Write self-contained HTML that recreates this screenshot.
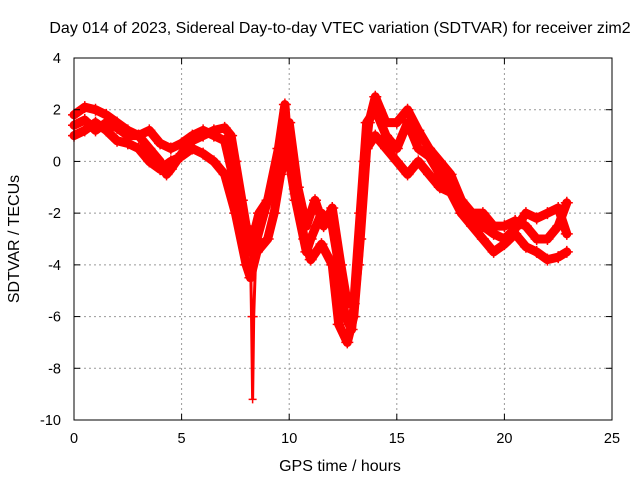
<!DOCTYPE html>
<html><head><meta charset="utf-8"><style>
body{margin:0;background:#fff}
svg{display:block;font-family:"Liberation Sans",sans-serif}
</style></head><body>
<svg id="chart" width="640" height="480">
<g id="grid"></g>
<g id="series"></g>
<rect x="74" y="58" width="538" height="362" fill="none" stroke="#000" stroke-width="1"/>
<g id="ticks"></g>
<text x="340" y="33" text-anchor="middle" font-size="16">Day 014 of 2023, Sidereal Day-to-day VTEC variation (SDTVAR) for receiver zim2</text>
<text x="340" y="471" text-anchor="middle" font-size="16">GPS time / hours</text>
<text x="19" y="239" text-anchor="middle" font-size="16" transform="rotate(-90 19 239)">SDTVAR / TECUs</text>
</svg>
<script>
const xTicks=[0,5,10,15,20,25];
const yTicks=[4,2,0,-2,-4,-6,-8,-10];
const seriesA=[[0,1.8],[0.5,2.1],[1,2.0],[1.5,1.8],[2,1.5],[2.5,1.2],[3,1.0],[3.5,0.5],[4,0.0],[4.3,-0.5],[4.5,-0.3],[5,0.3],[5.5,0.8],[6,1.0],[6.5,1.2],[7,1.3],[7.3,1.0],[7.5,0],[7.8,-1.5],[8,-2.5],[8.2,-3.5],[8.5,-3],[9,-1.5],[9.5,0.5],[9.8,2.2],[10,0],[10.3,-1.5],[10.8,-3.5],[11,-3],[11.5,-2],[12,-2.5],[12.3,-4],[12.6,-6],[12.9,-6.5],[13.2,-4],[13.5,0],[13.7,1.5],[14,2.5],[14.5,1.5],[15,1.5],[15.5,2.0],[16,1.2],[16.5,0.5],[17,0.0],[17.5,-0.5],[18,-1.5],[18.5,-2],[19,-2],[19.5,-2.5],[20,-2.5],[20.5,-2.3],[21,-2.5],[21.5,-3.0],[22,-3.0],[22.5,-2.5],[22.9,-1.6]];
const seriesB=[[0,1.0],[0.5,1.2],[1,1.5],[1.5,1.2],[2,0.8],[2.5,0.7],[3,0.5],[3.5,0],[4,-0.3],[4.5,0.0],[5,0.2],[5.5,0.5],[6,0.3],[6.5,0.0],[7,-0.5],[7.5,-2],[8,-4],[8.2,-4.5],[8.5,-3.5],[9,-3],[9.3,-2],[9.6,-0.5],[10,0.5],[10.3,-1],[10.7,-3],[11,-3.8],[11.5,-3.2],[12,-4],[12.3,-6.3],[12.7,-7],[13,-6],[13.3,-3],[13.6,0.5],[14,1.0],[14.5,0.5],[15,0.0],[15.5,-0.5],[16,0.0],[16.5,-0.5],[17,-1.0],[17.5,-1.2],[18,-2.0],[18.5,-2.5],[19,-3.0],[19.5,-3.5],[20,-3.2],[20.5,-2.8],[21,-3.3],[21.5,-3.5],[22,-3.8],[22.5,-3.7],[22.9,-3.5]];
const seriesC=[[0,1.4],[0.5,1.6],[1,1.2],[1.5,1.5],[2,1.3],[2.5,1.0],[3,1.0],[3.5,1.2],[4,0.7],[4.5,0.5],[5,0.7],[5.5,1.0],[6,1.2],[6.5,1.0],[7,0.8],[7.5,-1],[8,-2.5],[8.3,-3],[8.6,-2],[9,-1.5],[9.5,0],[10,1.5],[10.4,-1],[10.8,-2.5],[11.2,-1.5],[11.6,-2.5],[12,-1.8],[12.4,-4],[12.7,-5.5],[13,-5.5],[13.3,-2],[13.6,1.5],[14,2.0],[14.5,1.0],[15,0.5],[15.5,1.5],[16,0.5],[16.5,0.2],[17,-0.5],[17.5,-1.0],[18,-2.0],[18.5,-2.0],[19,-2.5],[19.5,-2.8],[20,-3],[20.5,-2.6],[21,-2.0],[21.5,-2.2],[22,-2.0],[22.5,-1.8],[22.9,-2.8]];
const spike=[[8.2,-3.5],[8.25,-6],[8.3,-9.2],[8.35,-6],[8.45,-3.5]];
const NS="http://www.w3.org/2000/svg";
const X=v=>74+v*(538/25);
const Y=v=>58+(4-v)*(362/14);
function mk(tag,attrs,parent){const e=document.createElementNS(NS,tag);for(const k in attrs)e.setAttribute(k,attrs[k]);parent.appendChild(e);return e;}
const grid=document.getElementById('grid'),ticks=document.getElementById('ticks'),ser=document.getElementById('series');
xTicks.forEach(t=>{
 if(t>0&&t<25){const g=mk('line',{x1:X(t),x2:X(t),y1:58,y2:420,stroke:'#999','stroke-dasharray':'2,3'},grid);
 
 }
 const l=mk('line',{x1:X(t),x2:X(t),y1:420,y2:414,stroke:'#000'},ticks);
 
 
 const l2=mk('line',{x1:X(t),x2:X(t),y1:58,y2:64,stroke:'#000'},ticks);
 
 
 const tx=mk('text',{x:X(t),y:443,'text-anchor':'middle','font-size':'14.5'},ticks);tx.textContent=t;
 
 
});
yTicks.forEach(t=>{
 if(t<4&&t>-10){const g=mk('line',{x1:74,x2:612,y1:Y(t),y2:Y(t),stroke:'#999','stroke-dasharray':'2,3'},grid);
 
 }
 const l=mk('line',{x1:74,x2:80,y1:Y(t),y2:Y(t),stroke:'#000'},ticks);
 
 
 const l2=mk('line',{x1:606,x2:612,y1:Y(t),y2:Y(t),stroke:'#000'},ticks);
 
 
 const tx=mk('text',{x:61,y:Y(t)+5,'text-anchor':'end','font-size':'14.5'},ticks);tx.textContent=t;
 
 
});
[seriesA,seriesB,seriesC].forEach((s,i)=>{
 const p=mk('polyline',{points:s.map(d=>X(d[0])+','+Y(d[1])).join(' '),fill:'none',stroke:'#f00','stroke-width':9,'stroke-linejoin':'round','stroke-linecap':'round'},ser);
 
 
 s.forEach(d=>{
  const m=mk('path',{d:`M${X(d[0])-6},${Y(d[1])}h12M${X(d[0])},${Y(d[1])-6}v12`,stroke:'#f00','stroke-width':1.5},ser);
  
  
 });
});
const sp=mk('polyline',{points:spike.map(d=>X(d[0])+','+Y(d[1])).join(' '),fill:'none',stroke:'#f00','stroke-width':3},ser);


spike.forEach(d=>{
 const m=mk('path',{d:`M${X(d[0])-4},${Y(d[1])}h8M${X(d[0])},${Y(d[1])-4}v8`,stroke:'#f00','stroke-width':1.5},ser);
 
 
});
</script>
</body></html>
